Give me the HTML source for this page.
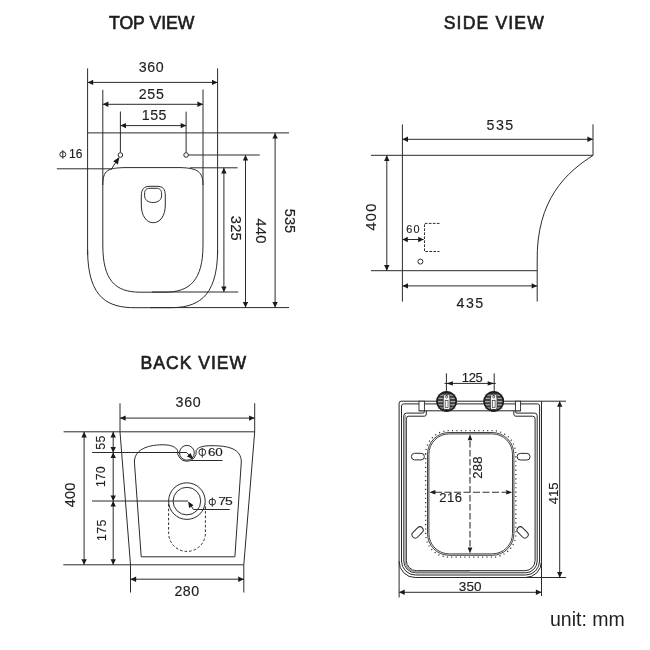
<!DOCTYPE html>
<html><head><meta charset="utf-8"><style>
html,body{margin:0;padding:0;background:#fff;width:650px;height:650px;overflow:hidden}
svg{display:block;font-family:"Liberation Sans",sans-serif;will-change:transform}
</style></head><body>
<svg width="650" height="650" viewBox="0 0 650 650">
<rect width="650" height="650" fill="#fff"/>
<g transform="translate(151.69 22.54) rotate(0)"><text x="0.01" y="6.30" font-size="17.60" letter-spacing="0.01" text-anchor="middle" fill="#1e1e1e" stroke="#1e1e1e" stroke-width="0.62">TOP VIEW</text></g>
<g transform="translate(493.77 22.54) rotate(0)"><text x="0.57" y="6.30" font-size="17.60" letter-spacing="1.15" text-anchor="middle" fill="#1e1e1e" stroke="#1e1e1e" stroke-width="0.62">SIDE VIEW</text></g>
<g transform="translate(193.35 363.04) rotate(0)"><text x="0.48" y="6.30" font-size="17.60" letter-spacing="0.97" text-anchor="middle" fill="#1e1e1e" stroke="#1e1e1e" stroke-width="0.62">BACK VIEW</text></g>
<line x1="87.6" y1="68.4" x2="87.6" y2="255" stroke="#2b2b2b" stroke-width="1.0"/>
<line x1="217.6" y1="68.4" x2="217.6" y2="255" stroke="#2b2b2b" stroke-width="1.0"/>
<line x1="102.8" y1="89.8" x2="102.8" y2="185" stroke="#2b2b2b" stroke-width="1.0"/>
<line x1="203" y1="89.5" x2="203" y2="185" stroke="#2b2b2b" stroke-width="1.0"/>
<line x1="120.4" y1="111.5" x2="120.4" y2="152.5" stroke="#2b2b2b" stroke-width="1.0"/>
<line x1="186.1" y1="111.7" x2="186.1" y2="152.7" stroke="#2b2b2b" stroke-width="1.0"/>
<line x1="87.6" y1="82.4" x2="217.6" y2="82.4" stroke="#2b2b2b" stroke-width="1.0"/>
<polygon points="87.60,82.40 93.20,79.70 93.20,85.10" fill="#1a1a1a"/>
<polygon points="217.60,82.40 212.00,85.10 212.00,79.70" fill="#1a1a1a"/>
<line x1="102.8" y1="104.3" x2="203" y2="104.3" stroke="#2b2b2b" stroke-width="1.0"/>
<polygon points="102.80,104.30 108.40,101.60 108.40,107.00" fill="#1a1a1a"/>
<polygon points="203.00,104.30 197.40,107.00 197.40,101.60" fill="#1a1a1a"/>
<line x1="120.4" y1="125.6" x2="186.3" y2="125.6" stroke="#2b2b2b" stroke-width="1.0"/>
<polygon points="120.40,125.60 126.00,122.90 126.00,128.30" fill="#1a1a1a"/>
<polygon points="186.30,125.60 180.70,128.30 180.70,122.90" fill="#1a1a1a"/>
<g transform="translate(151.19 66.81) rotate(0)"><text x="0.28" y="5.08" font-size="14.20" letter-spacing="0.56" text-anchor="middle" fill="#1e1e1e" stroke="#1e1e1e" stroke-width="0.15">360</text></g>
<g transform="translate(151.25 93.60) rotate(0)"><text x="0.34" y="5.08" font-size="14.20" letter-spacing="0.69" text-anchor="middle" fill="#1e1e1e" stroke="#1e1e1e" stroke-width="0.15">255</text></g>
<g transform="translate(154.08 114.70) rotate(0)"><text x="0.30" y="5.08" font-size="14.20" letter-spacing="0.60" text-anchor="middle" fill="#1e1e1e" stroke="#1e1e1e" stroke-width="0.15">155</text></g>
<g transform="translate(75.77 153.76) rotate(0)"><text x="0.07" y="4.30" font-size="12.00" letter-spacing="0.14" text-anchor="middle" fill="#1e1e1e" stroke="#1e1e1e" stroke-width="0.15">16</text></g>
<g transform="translate(236.01 228.24) rotate(90)"><text x="0.10" y="5.23" font-size="14.60" letter-spacing="0.20" text-anchor="middle" fill="#1e1e1e" stroke="#1e1e1e" stroke-width="0.15">325</text></g>
<g transform="translate(260.83 230.95) rotate(90)"><text x="0.09" y="5.23" font-size="14.60" letter-spacing="0.18" text-anchor="middle" fill="#1e1e1e" stroke="#1e1e1e" stroke-width="0.15">440</text></g>
<g transform="translate(290.59 220.93) rotate(90)"><text x="-0.03" y="5.23" font-size="14.60" letter-spacing="-0.06" text-anchor="middle" fill="#1e1e1e" stroke="#1e1e1e" stroke-width="0.15">535</text></g>
<line x1="87.6" y1="132.9" x2="289" y2="132.9" stroke="#2b2b2b" stroke-width="1.0"/>
<circle cx="120.4" cy="155.0" r="2.3" stroke="#2b2b2b" fill="#fff" stroke-width="1.0"/>
<circle cx="186.1" cy="155.0" r="2.3" stroke="#2b2b2b" fill="#fff" stroke-width="1.0"/>
<line x1="188.4" y1="155.0" x2="259.8" y2="155.0" stroke="#2b2b2b" stroke-width="1.0"/>
<line x1="56.8" y1="168.8" x2="112" y2="168.8" stroke="#2b2b2b" stroke-width="1.0"/>
<line x1="190" y1="167.8" x2="237.6" y2="167.8" stroke="#2b2b2b" stroke-width="1.0"/>
<ellipse cx="62.8" cy="154.4" rx="3.0" ry="2.7" fill="none" stroke="#1e1e1e" stroke-width="0.95"/>
<line x1="62.8" y1="150.2" x2="62.8" y2="158.8" stroke="#1e1e1e" stroke-width="0.95"/>
<line x1="111.5" y1="169" x2="118.5" y2="158" stroke="#2b2b2b" stroke-width="1.0"/>
<polygon points="119.40,157.00 117.89,164.39 113.21,161.31" fill="#1a1a1a"/>
<line x1="223.9" y1="167.8" x2="223.9" y2="292.0" stroke="#2b2b2b" stroke-width="1.0"/>
<polygon points="223.90,167.80 226.60,173.40 221.20,173.40" fill="#1a1a1a"/>
<polygon points="223.90,292.00 221.20,286.40 226.60,286.40" fill="#1a1a1a"/>
<line x1="245.5" y1="155.0" x2="245.5" y2="307.6" stroke="#2b2b2b" stroke-width="1.0"/>
<polygon points="245.50,155.00 248.20,160.60 242.80,160.60" fill="#1a1a1a"/>
<polygon points="245.50,307.60 242.80,302.00 248.20,302.00" fill="#1a1a1a"/>
<line x1="275.1" y1="132.9" x2="275.1" y2="307.6" stroke="#2b2b2b" stroke-width="1.0"/>
<polygon points="275.10,132.90 277.80,138.50 272.40,138.50" fill="#1a1a1a"/>
<polygon points="275.10,307.60 272.40,302.00 277.80,302.00" fill="#1a1a1a"/>
<line x1="152" y1="292.0" x2="238.2" y2="292.0" stroke="#2b2b2b" stroke-width="1.0"/>
<line x1="150" y1="307.6" x2="289" y2="307.6" stroke="#2b2b2b" stroke-width="1.0"/>
<path d="M87.6,250 C87.6,300 110,307.7 135,307.7 L170,307.7 C195,307.7 217.6,300 217.6,250" stroke="#2b2b2b" stroke-width="1.0" fill="none"/>
<path d="M102.8,185 C102.8,170 108,168 125,167.6 L180,167.6 C198,168 203,172 203,185 L203,245 C203,280 190,292.2 165,292.2 L140,292.2 C115,292.2 102.8,280 102.8,245 Z" stroke="#2b2b2b" stroke-width="1.0" fill="none"/>
<path d="M141.3,196 C141.3,189 144,186.3 150,186.3 L157,186.3 C163,186.3 165.3,189 165.3,196 L165.3,205 C165.3,216 160,222.7 153.3,222.7 C146.5,222.7 141.3,216 141.3,205 Z" stroke="#2b2b2b" stroke-width="1.0" fill="none"/>
<path d="M144.6,194 C144.6,190 146,188.3 150,188.3 L156,188.3 C160,188.3 161.6,190 161.6,194 L161.6,195.5 C161.6,200 158,202.5 153.1,202.5 C148,202.5 144.6,200 144.6,195.5 Z" stroke="#2b2b2b" stroke-width="1.0" fill="none"/>
<line x1="402.4" y1="124.4" x2="402.4" y2="301.6" stroke="#2b2b2b" stroke-width="1.0"/>
<line x1="593" y1="124.3" x2="593" y2="155.5" stroke="#2b2b2b" stroke-width="1.0"/>
<line x1="402.4" y1="139.3" x2="593" y2="139.3" stroke="#2b2b2b" stroke-width="1.0"/>
<polygon points="402.40,139.30 408.00,136.60 408.00,142.00" fill="#1a1a1a"/>
<polygon points="593.00,139.30 587.40,142.00 587.40,136.60" fill="#1a1a1a"/>
<g transform="translate(499.88 125.09) rotate(0)"><text x="0.76" y="5.08" font-size="14.20" letter-spacing="1.51" text-anchor="middle" fill="#1e1e1e" stroke="#1e1e1e" stroke-width="0.15">535</text></g>
<g transform="translate(371.02 217.13) rotate(-90)"><text x="0.60" y="5.23" font-size="14.60" letter-spacing="1.21" text-anchor="middle" fill="#1e1e1e" stroke="#1e1e1e" stroke-width="0.15">400</text></g>
<g transform="translate(412.84 229.31) rotate(0)"><text x="0.56" y="3.90" font-size="10.90" letter-spacing="1.13" text-anchor="middle" fill="#1e1e1e" stroke="#1e1e1e" stroke-width="0.15">60</text></g>
<g transform="translate(469.85 303.12) rotate(0)"><text x="0.77" y="5.08" font-size="14.20" letter-spacing="1.54" text-anchor="middle" fill="#1e1e1e" stroke="#1e1e1e" stroke-width="0.15">435</text></g>
<line x1="371" y1="155.3" x2="593" y2="155.3" stroke="#2b2b2b" stroke-width="1.0"/>
<line x1="371" y1="270.7" x2="537.2" y2="270.7" stroke="#2b2b2b" stroke-width="1.0"/>
<line x1="386.8" y1="155.3" x2="386.8" y2="270.7" stroke="#2b2b2b" stroke-width="1.0"/>
<polygon points="386.80,155.30 389.50,160.90 384.10,160.90" fill="#1a1a1a"/>
<polygon points="386.80,270.70 384.10,265.10 389.50,265.10" fill="#1a1a1a"/>
<path d="M593,155.4 C567,172 536,199 537.2,262 L537.2,301.5" stroke="#2b2b2b" stroke-width="1.0" fill="none"/>
<line x1="402.4" y1="285.9" x2="537.2" y2="285.9" stroke="#2b2b2b" stroke-width="1.0"/>
<polygon points="402.40,285.90 408.00,283.20 408.00,288.60" fill="#1a1a1a"/>
<polygon points="537.20,285.90 531.60,288.60 531.60,283.20" fill="#1a1a1a"/>
<line x1="402.4" y1="239.5" x2="423.6" y2="239.5" stroke="#2b2b2b" stroke-width="1.0"/>
<polygon points="402.40,239.50 407.80,236.80 407.80,242.20" fill="#1a1a1a"/>
<polygon points="423.60,239.50 418.20,242.20 418.20,236.80" fill="#1a1a1a"/>
<path d="M439.5,223.4 L424.5,223.4 L424.5,251.5 L439.5,251.5" stroke="#2b2b2b" stroke-width="1.0" fill="none" stroke-dasharray="2.6,1.4"/>
<circle cx="420.4" cy="261.6" r="2.5" stroke="#2b2b2b" fill="none" stroke-width="1.0"/>
<line x1="120" y1="403.3" x2="120" y2="431.9" stroke="#2b2b2b" stroke-width="1.0"/>
<line x1="254.7" y1="403.3" x2="254.7" y2="431.9" stroke="#2b2b2b" stroke-width="1.0"/>
<path d="M120,431.9 L130.5,564.8 L130.5,592.5" stroke="#2b2b2b" stroke-width="1.0" fill="none"/>
<path d="M254.7,431.9 L243.8,564.8 L243.8,592.5" stroke="#2b2b2b" stroke-width="1.0" fill="none"/>
<line x1="120" y1="418.1" x2="254.7" y2="418.1" stroke="#2b2b2b" stroke-width="1.0"/>
<polygon points="120.00,418.10 125.60,415.40 125.60,420.80" fill="#1a1a1a"/>
<polygon points="254.70,418.10 249.10,420.80 249.10,415.40" fill="#1a1a1a"/>
<line x1="63.6" y1="431.8" x2="254.7" y2="431.8" stroke="#2b2b2b" stroke-width="1.0"/>
<line x1="63.3" y1="564.8" x2="243.8" y2="564.8" stroke="#2b2b2b" stroke-width="1.0"/>
<line x1="84.1" y1="431.8" x2="84.1" y2="564.8" stroke="#2b2b2b" stroke-width="1.0"/>
<polygon points="84.10,431.80 86.80,437.40 81.40,437.40" fill="#1a1a1a"/>
<polygon points="84.10,564.80 81.40,559.20 86.80,559.20" fill="#1a1a1a"/>
<line x1="113.2" y1="431.8" x2="113.2" y2="452.5" stroke="#2b2b2b" stroke-width="1.0"/>
<polygon points="113.20,431.80 115.90,437.40 110.50,437.40" fill="#1a1a1a"/>
<polygon points="113.20,452.50 110.50,446.90 115.90,446.90" fill="#1a1a1a"/>
<line x1="113.2" y1="452.5" x2="113.2" y2="501" stroke="#2b2b2b" stroke-width="1.0"/>
<polygon points="113.20,452.50 115.90,458.10 110.50,458.10" fill="#1a1a1a"/>
<polygon points="113.20,501.00 110.50,495.40 115.90,495.40" fill="#1a1a1a"/>
<line x1="113.2" y1="501" x2="113.2" y2="564.8" stroke="#2b2b2b" stroke-width="1.0"/>
<polygon points="113.20,501.00 115.90,506.60 110.50,506.60" fill="#1a1a1a"/>
<polygon points="113.20,564.80 110.50,559.20 115.90,559.20" fill="#1a1a1a"/>
<line x1="92" y1="452.5" x2="186.9" y2="452.5" stroke="#2b2b2b" stroke-width="1.0"/>
<line x1="92" y1="501" x2="188" y2="501" stroke="#2b2b2b" stroke-width="1.0"/>
<g transform="translate(188.09 401.80) rotate(0)"><text x="0.35" y="5.08" font-size="14.20" letter-spacing="0.71" text-anchor="middle" fill="#1e1e1e" stroke="#1e1e1e" stroke-width="0.15">360</text></g>
<g transform="translate(100.43 442.60) rotate(-90)"><text x="0.14" y="4.44" font-size="12.40" letter-spacing="0.28" text-anchor="middle" fill="#1e1e1e" stroke="#1e1e1e" stroke-width="0.15">55</text></g>
<g transform="translate(100.45 476.70) rotate(-90)"><text x="0.04" y="4.44" font-size="12.40" letter-spacing="0.07" text-anchor="middle" fill="#1e1e1e" stroke="#1e1e1e" stroke-width="0.15">170</text></g>
<g transform="translate(101.39 530.35) rotate(-90)"><text x="0.22" y="4.44" font-size="12.40" letter-spacing="0.44" text-anchor="middle" fill="#1e1e1e" stroke="#1e1e1e" stroke-width="0.15">175</text></g>
<g transform="translate(70.09 494.96) rotate(-90)"><text x="0.01" y="5.23" font-size="14.60" letter-spacing="0.02" text-anchor="middle" fill="#1e1e1e" stroke="#1e1e1e" stroke-width="0.15">400</text></g>
<g transform="translate(215.36 452.22) rotate(0) scale(1.2 1)"><text x="-0.14" y="4.01" font-size="11.20" letter-spacing="-0.28" text-anchor="middle" fill="#1e1e1e" stroke="#1e1e1e" stroke-width="0.15">60</text></g>
<g transform="translate(225.48 500.74) rotate(0) scale(1.2 1)"><text x="-0.45" y="4.15" font-size="11.60" letter-spacing="-0.89" text-anchor="middle" fill="#1e1e1e" stroke="#1e1e1e" stroke-width="0.15">75</text></g>
<g transform="translate(186.81 591.22) rotate(0)"><text x="0.28" y="5.08" font-size="14.20" letter-spacing="0.57" text-anchor="middle" fill="#1e1e1e" stroke="#1e1e1e" stroke-width="0.15">280</text></g>
<line x1="130.5" y1="579.2" x2="243.8" y2="579.2" stroke="#2b2b2b" stroke-width="1.0"/>
<polygon points="130.50,579.20 136.10,576.50 136.10,581.90" fill="#1a1a1a"/>
<polygon points="243.80,579.20 238.20,581.90 238.20,576.50" fill="#1a1a1a"/>
<path d="M134.4,462 C134.4,451 145,444.8 163,444.8 C171,444.8 176,447 177.6,450.5 A9.4,9.4 0 1 0 196.2,450.5 C198,447 203,445.7 212,445.7 C229,445.7 241.3,449 241.3,462 L234.9,556.8 L141.2,556.8 Z" stroke="#2b2b2b" stroke-width="1.0" fill="none"/>
<circle cx="186.9" cy="452.8" r="7.4" stroke="#2b2b2b" fill="none" stroke-width="1.0"/>
<line x1="191" y1="460.5" x2="222.6" y2="460.5" stroke="#2b2b2b" stroke-width="1.0"/>
<line x1="186.9" y1="452.8" x2="190.5" y2="456.5" stroke="#2b2b2b" stroke-width="1.0"/>
<polygon points="193.00,459.00 186.92,456.60 190.60,452.92" fill="#1a1a1a"/>
<ellipse cx="202.3" cy="452.2" rx="3.4" ry="3.4" fill="none" stroke="#1e1e1e" stroke-width="0.95"/>
<line x1="202.3" y1="447.9" x2="202.3" y2="457.6" stroke="#1e1e1e" stroke-width="0.95"/>
<circle cx="186.9" cy="501.1" r="18.3" stroke="#2b2b2b" fill="none" stroke-width="1.0"/>
<circle cx="186.9" cy="501.1" r="13.8" stroke="#2b2b2b" fill="none" stroke-width="1.0"/>
<line x1="193.4" y1="509.5" x2="229.8" y2="509.5" stroke="#2b2b2b" stroke-width="1.0"/>
<line x1="189.5" y1="503" x2="193.4" y2="509.5" stroke="#2b2b2b" stroke-width="1.0"/>
<polygon points="188.20,501.40 193.52,505.21 189.06,507.88" fill="#1a1a1a"/>
<ellipse cx="212.3" cy="502" rx="3.2" ry="3.0" fill="none" stroke="#1e1e1e" stroke-width="0.95"/>
<line x1="212.3" y1="497.5" x2="212.3" y2="506.7" stroke="#1e1e1e" stroke-width="0.95"/>
<path d="M168.6,504 L168.6,533 A18.4,18.4 0 0 0 205.4,533 L205.4,504" stroke="#2b2b2b" stroke-width="1.0" fill="none" stroke-dasharray="2.6,2"/>
<line x1="446.4" y1="373.3" x2="446.4" y2="392" stroke="#2b2b2b" stroke-width="1.0"/>
<line x1="494.2" y1="373.3" x2="494.2" y2="392" stroke="#2b2b2b" stroke-width="1.0"/>
<line x1="444.5" y1="383.4" x2="495.8" y2="383.4" stroke="#2b2b2b" stroke-width="1.0"/>
<polygon points="446.40,383.40 452.90,381.20 452.90,385.60" fill="#1a1a1a"/>
<polygon points="494.20,383.40 487.70,385.60 487.70,381.20" fill="#1a1a1a"/>
<g transform="translate(472.26 376.88) rotate(0)"><text x="-0.23" y="4.65" font-size="13.00" letter-spacing="-0.45" text-anchor="middle" fill="#1e1e1e" stroke="#1e1e1e" stroke-width="0.15">125</text></g>
<path d="M541.5,401.2 L401.2,401.2 Q399.1,401.2 399.1,403.3 L399.1,561.4 A16,16 0 0 0 415.1,577.5 L525.5,577.5 A16,16 0 0 0 541.5,561.5 Z" stroke="#262626" stroke-width="1.0" fill="none"/>
<line x1="399.1" y1="561" x2="399.1" y2="597.5" stroke="#2b2b2b" stroke-width="1.0"/>
<line x1="541.5" y1="561" x2="541.5" y2="596" stroke="#2b2b2b" stroke-width="1.0"/>
<path d="M401.5,406 Q401.5,403.9 403.6,403.9 L537.5,403.9 Q539.6,403.9 539.6,406 L539.6,561 A14,14 0 0 1 525.6,575 L415.5,575 A14,14 0 0 1 401.5,561 Z" stroke="#262626" stroke-width="1.0" fill="none"/>
<line x1="419" y1="410.8" x2="520.6" y2="410.8" stroke="#262626" stroke-width="1.0"/>
<path d="M424.4,410.8 L424.4,411.6 Q424.4,413.1 422.9,413.1 L406.4,413.1 Q403.8,413.1 403.8,415.7 L403.8,561 A11.8,11.8 0 0 0 415.6,572.8 L525.4,572.8 A11.8,11.8 0 0 0 537.2,561 L537.2,415.7 Q537.2,413.1 534.6,413.1 L517,413.1 Q515.4,413.1 515.4,411.6 L515.4,410.8" stroke="#262626" stroke-width="1.0" fill="none"/>
<path d="M426.3,410.8 L426.3,414.2 Q426.3,416.2 424.3,416.2 L408.8,416.2 Q406.3,416.2 406.3,418.7 L406.3,560.5 A10.2,10.2 0 0 0 416.5,570.7 L524.9,570.7 A10.2,10.2 0 0 0 535.1,560.5 L535.1,418.7 Q535.1,416.2 532.6,416.2 L515.8,416.2 Q513.8,416.2 513.8,414.2 L513.8,410.8" stroke="#262626" stroke-width="1.0" fill="none"/>
<path d="M405.05,415 L405.05,561 A11,11 0 0 0 416,571.75 L470,571.75" stroke="#999" stroke-width="1.4" fill="none"/>
<rect x="419" y="401.2" width="5.4" height="9.6" fill="#fff" stroke="#262626" stroke-width="0.9"/>
<rect x="515.4" y="401.2" width="5.2" height="9.6" fill="#fff" stroke="#262626" stroke-width="0.9"/>
<circle cx="446.6" cy="401.5" r="10.3" stroke="#2b2b2b" fill="#3c3c3c" stroke-width="0"/>
<line x1="437.6" y1="395.2" x2="455.6" y2="395.2" stroke="#a8a8a8" stroke-width="1.3"/>
<line x1="437.6" y1="398.4" x2="455.6" y2="398.4" stroke="#a8a8a8" stroke-width="1.3"/>
<line x1="437.6" y1="401.6" x2="455.6" y2="401.6" stroke="#a8a8a8" stroke-width="1.3"/>
<line x1="437.6" y1="404.8" x2="455.6" y2="404.8" stroke="#a8a8a8" stroke-width="1.3"/>
<line x1="437.6" y1="408.0" x2="455.6" y2="408.0" stroke="#a8a8a8" stroke-width="1.3"/>
<circle cx="446.6" cy="401.5" r="9.6" stroke="#1c1c1c" fill="none" stroke-width="1.6"/>
<path d="M443.20000000000005,399 Q443.20000000000005,394.4 445.0,394.2 L446.6,396 L448.20000000000005,394.2 Q450.0,394.4 450.0,399 L450.0,408 Q450.0,409.5 448.40000000000003,409.5 L444.8,409.5 Q443.20000000000005,409.5 443.20000000000005,408 Z" fill="#f6f6f6" stroke="#222" stroke-width="0.8"/>
<circle cx="446.6" cy="396.9" r="1.1" stroke="#333" fill="none" stroke-width="0.7"/>
<rect x="445.20000000000005" y="400.4" width="2.8" height="7.2" fill="#fff" stroke="#333" stroke-width="0.7"/>
<circle cx="493.7" cy="401.5" r="10.3" stroke="#2b2b2b" fill="#3c3c3c" stroke-width="0"/>
<line x1="484.7" y1="395.2" x2="502.7" y2="395.2" stroke="#a8a8a8" stroke-width="1.3"/>
<line x1="484.7" y1="398.4" x2="502.7" y2="398.4" stroke="#a8a8a8" stroke-width="1.3"/>
<line x1="484.7" y1="401.6" x2="502.7" y2="401.6" stroke="#a8a8a8" stroke-width="1.3"/>
<line x1="484.7" y1="404.8" x2="502.7" y2="404.8" stroke="#a8a8a8" stroke-width="1.3"/>
<line x1="484.7" y1="408.0" x2="502.7" y2="408.0" stroke="#a8a8a8" stroke-width="1.3"/>
<circle cx="493.7" cy="401.5" r="9.6" stroke="#1c1c1c" fill="none" stroke-width="1.6"/>
<path d="M490.3,399 Q490.3,394.4 492.09999999999997,394.2 L493.7,396 L495.3,394.2 Q497.09999999999997,394.4 497.09999999999997,399 L497.09999999999997,408 Q497.09999999999997,409.5 495.5,409.5 L491.9,409.5 Q490.3,409.5 490.3,408 Z" fill="#f6f6f6" stroke="#222" stroke-width="0.8"/>
<circle cx="493.7" cy="396.9" r="1.1" stroke="#333" fill="none" stroke-width="0.7"/>
<rect x="492.3" y="400.4" width="2.8" height="7.2" fill="#fff" stroke="#333" stroke-width="0.7"/>
<path d="M428.9,454.2 A20.3,20.3 0 0 1 449.2,433.9 L492.2,433.9 A20.3,20.3 0 0 1 512.5,454.2 L512.5,533.6 A20.3,20.3 0 0 1 492.2,553.9 L449.2,553.9 A20.3,20.3 0 0 1 428.9,533.6 Z" stroke="#2e2e2e" stroke-width="0.9" fill="none"/>
<path d="M427.5,454.2 A21.7,21.7 0 0 1 449.2,432.5 L492.2,432.5 A21.7,21.7 0 0 1 513.9,454.2 L513.9,533.6 A21.7,21.7 0 0 1 492.2,555.3 L449.2,555.3 A21.7,21.7 0 0 1 427.5,533.6 Z" stroke="#2e2e2e" stroke-width="0.9" fill="none"/>
<path d="M425.6,454.2 A23.6,23.6 0 0 1 449.2,430.6 L492.2,430.6 A23.6,23.6 0 0 1 515.8,454.2 L515.8,533.6 A23.6,23.6 0 0 1 492.2,557.2 L449.2,557.2 A23.6,23.6 0 0 1 425.6,533.6 Z" stroke="#333" stroke-width="1.3" fill="none" stroke-dasharray="1.1,3.3"/>
<line x1="470" y1="441" x2="470" y2="547" stroke="#333" stroke-width="1.1" stroke-dasharray="6.5,2.5"/>
<polygon points="470.00,434.20 472.30,440.20 467.70,440.20" fill="#1a1a1a"/>
<polygon points="470.00,553.60 467.70,547.60 472.30,547.60" fill="#1a1a1a"/>
<line x1="435" y1="492.3" x2="506" y2="492.3" stroke="#333" stroke-width="1.1" stroke-dasharray="7,2.5"/>
<polygon points="429.40,492.30 435.40,490.00 435.40,494.60" fill="#1a1a1a"/>
<polygon points="512.20,492.30 506.20,494.60 506.20,490.00" fill="#1a1a1a"/>
<g transform="translate(477.27 467.74) rotate(-90)"><text x="0.12" y="4.65" font-size="13.00" letter-spacing="0.25" text-anchor="middle" fill="#1e1e1e" stroke="#1e1e1e" stroke-width="0.15">288</text></g>
<g transform="translate(450.58 497.50) rotate(0)"><text x="0.26" y="4.65" font-size="13.00" letter-spacing="0.51" text-anchor="middle" fill="#1e1e1e" stroke="#1e1e1e" stroke-width="0.15">216</text></g>
<g transform="translate(553.51 493.40) rotate(-90)"><text x="0.05" y="4.65" font-size="13.00" letter-spacing="0.10" text-anchor="middle" fill="#1e1e1e" stroke="#1e1e1e" stroke-width="0.15">415</text></g>
<g transform="translate(470.14 586.00) rotate(0)"><text x="0.04" y="4.83" font-size="13.50" letter-spacing="0.08" text-anchor="middle" fill="#1e1e1e" stroke="#1e1e1e" stroke-width="0.15">350</text></g>
<rect x="411.40" y="453.30" width="13.0" height="6.6" rx="3.3" fill="none" stroke="#2a2a2a" stroke-width="1"/>
<rect x="517.10" y="453.40" width="13.0" height="6.6" rx="3.3" fill="none" stroke="#2a2a2a" stroke-width="1"/>
<rect x="411.10" y="529.10" width="13.0" height="6.6" rx="3.3" fill="none" stroke="#2a2a2a" stroke-width="1" transform="rotate(-45 417.6 532.4)"/>
<rect x="516.10" y="529.10" width="13.0" height="6.6" rx="3.3" fill="none" stroke="#2a2a2a" stroke-width="1" transform="rotate(45 522.6 532.4)"/>
<line x1="541.5" y1="401.2" x2="566" y2="401.2" stroke="#2b2b2b" stroke-width="1.0"/>
<line x1="525" y1="577.5" x2="566" y2="577.5" stroke="#2b2b2b" stroke-width="1.0"/>
<line x1="559.7" y1="401.2" x2="559.7" y2="577.5" stroke="#2b2b2b" stroke-width="1.0"/>
<polygon points="559.70,401.20 562.40,406.80 557.00,406.80" fill="#1a1a1a"/>
<polygon points="559.70,577.50 557.00,571.90 562.40,571.90" fill="#1a1a1a"/>
<line x1="399.1" y1="592.3" x2="541.5" y2="592.3" stroke="#2b2b2b" stroke-width="1.0"/>
<polygon points="399.10,592.30 404.70,589.60 404.70,595.00" fill="#1a1a1a"/>
<polygon points="541.50,592.30 535.90,595.00 535.90,589.60" fill="#1a1a1a"/>
<g transform="translate(587.33 619.15) rotate(0)"><text x="0.00" y="6.44" font-size="19.52" letter-spacing="0.00" text-anchor="middle" fill="#1e1e1e">unit: mm</text></g>
</svg></body></html>
